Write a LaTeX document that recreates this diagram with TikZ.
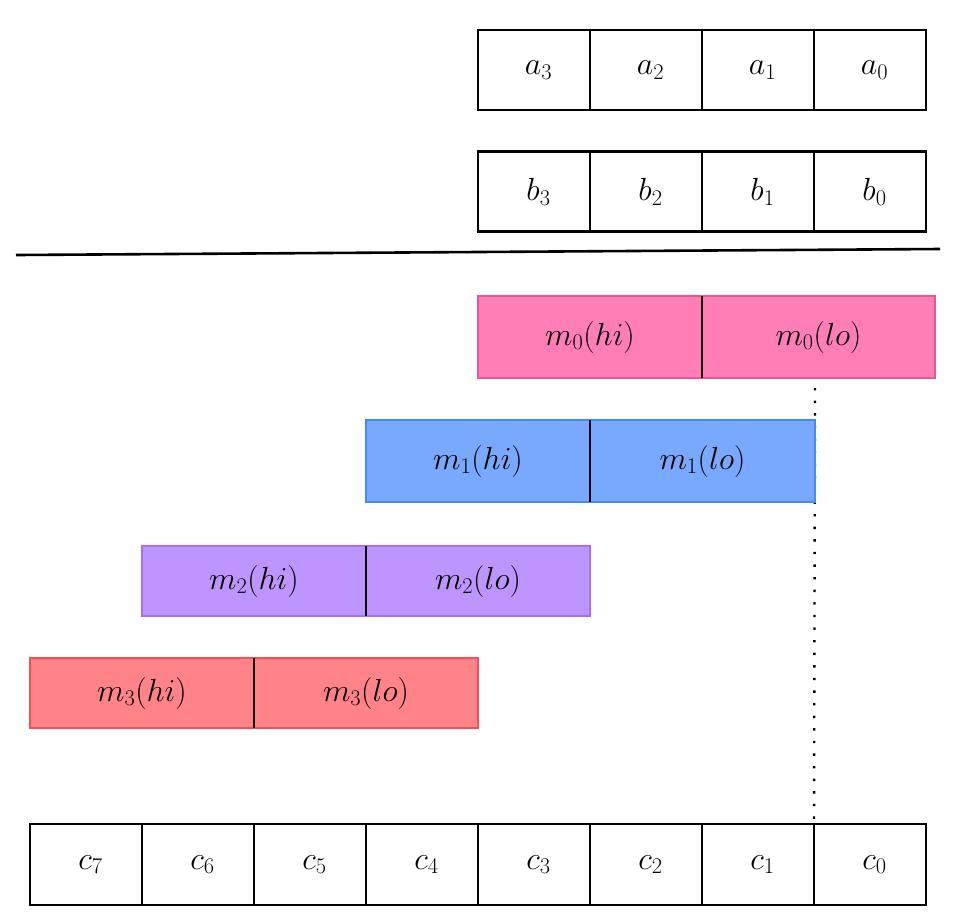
\RequirePackage{fix-cm}
\documentclass[tikz,border=0pt]{standalone}
\usepackage{tikz}
\definecolor{mzfill}{HTML}{FF7EB6}\definecolor{mzline}{HTML}{EE5396}
\definecolor{mofill}{HTML}{78A9FF}\definecolor{moline}{HTML}{4589FF}
\definecolor{mtfill}{HTML}{BE95FF}\definecolor{mtline}{HTML}{A56EFF}
\definecolor{mrfill}{HTML}{FF8389}\definecolor{mrline}{HTML}{FA4D56}
\newcommand{\cl}[1]{\hspace*{9pt}$#1$}
\tikzset{
  cell/.style={draw=black, line width=2.4pt, minimum width=112pt, minimum height=80pt, inner sep=0pt, outer sep=0pt, font=\fontsize{32}{38}\selectfont},
  half/.style={line width=2pt, inner sep=0pt, outer sep=0pt, font=\fontsize{32}{38}\selectfont},
  divider/.style={draw=black, line width=2.2pt},
  rule/.style={draw=black, line width=2.6pt},
  dotline/.style={draw=black, line width=2.4pt, dash pattern=on 2.4pt off 10.2pt}
}
\begin{document}
\begin{tikzpicture}[x=1pt,y=-1pt]
\useasboundingbox (0,0) rectangle (960,914);
% a row
\node[cell] (a3) at (534,70) {\cl{a_3}};
\node[cell] (a2) at (646,70) {\cl{a_2}};
\node[cell] (a1) at (758,70) {\cl{a_1}};
\node[cell] (a0) at (870,70) {\cl{a_0}};
% b row
\node[cell] (b3) at (534,191.5) {\cl{b_3}};
\node[cell] (b2) at (646,191.5) {\cl{b_2}};
\node[cell] (b1) at (758,191.5) {\cl{b_1}};
\node[cell] (b0) at (870,191.5) {\cl{b_0}};
% rule
\coordinate (rl) at (16,255);
\coordinate (rr) at (940,249);
\draw[rule] (rl) -- (rr);
% c row
\foreach \i/\x in {7/86,6/198,5/310,4/422,3/534,2/646,1/758,0/870}{
  \node[cell, minimum height=81pt] (c\i) at (\x,864.5) {\cl{c_{\i}}};
}
% dotted line
\coordinate (dtop) at (815,388);
\draw[dotline] (dtop) -- (c1.north east);
% m0
\node[half, fill=mzfill, draw=mzline, minimum width=224pt, minimum height=82pt] (m0h) at (590,337) {$m_0(hi)$};
\node[half, fill=mzfill, draw=mzline, minimum width=233pt, minimum height=82pt] (m0l) at (818.5,337) {$m_0(lo)$};
\draw[divider] (m0h.north east) -- (m0h.south east);
% m1
\node[half, fill=mofill, draw=moline, minimum width=224pt, minimum height=82pt] (m1h) at (478,461) {$m_1(hi)$};
\node[half, fill=mofill, draw=moline, minimum width=225pt, minimum height=82pt] (m1l) at (702.5,461) {$m_1(lo)$};
\draw[divider] (m1h.north east) -- (m1h.south east);
% m2
\node[half, fill=mtfill, draw=mtline, minimum width=224pt, minimum height=70pt] (m2h) at (254,581) {$m_2(hi)$};
\node[half, fill=mtfill, draw=mtline, minimum width=224pt, minimum height=70pt] (m2l) at (478,581) {$m_2(lo)$};
\draw[divider] (m2h.north east) -- (m2h.south east);
% m3
\node[half, fill=mrfill, draw=mrline, minimum width=224pt, minimum height=70pt] (m3h) at (142,693) {$m_3(hi)$};
\node[half, fill=mrfill, draw=mrline, minimum width=224pt, minimum height=70pt] (m3l) at (366,693) {$m_3(lo)$};
\draw[divider] (m3h.north east) -- (m3h.south east);
\end{tikzpicture}
\end{document}
